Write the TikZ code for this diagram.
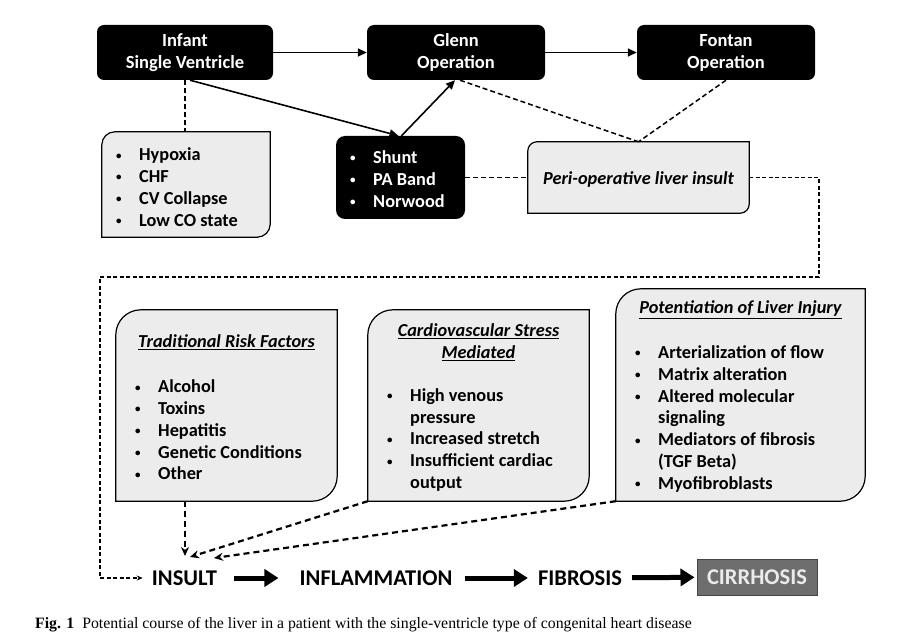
\documentclass[tikz,border=0pt]{standalone}
\usepackage{fontspec}
\setmainfont{Carlito}
\newfontfamily\capfont{Liberation Serif}
\usetikzlibrary{arrows.meta,calc}
\definecolor{boxgray}{HTML}{ECECEC}
\definecolor{cirrgray}{HTML}{6E6E6E}
\definecolor{cirrborder}{HTML}{454545}
\newcommand\blt[1]{\makebox[23pt][l]{\raisebox{1.6pt}{\scalebox{0.6}{\textbullet}}}#1}
\newcommand\bcnt[1]{\hspace*{23pt}#1}
\newcommand\cutbox[2]{%
  \draw[boxline] ($(#1.north west)+(0,#2)$) .. controls ($(#1.north west)+(0,0.45*#2)$) and ($(#1.north west)+(0.45*#2,0)$) .. ($(#1.north west)+(#2,0)$) -- (#1.north east) -- ($(#1.south east)+(0,-#2)$) .. controls ($(#1.south east)+(0,-0.45*#2)$) and ($(#1.south east)+(-0.45*#2,0)$) .. ($(#1.south east)+(-#2,0)$) -- (#1.south west) -- cycle;}
\begin{document}
\begin{tikzpicture}[x=1pt,y=-1pt,
  blackbox/.style={fill=black, text=white, rounded corners=7pt, inner sep=0,
    font=\bfseries\fontsize{18.5}{22}\selectfont, align=center},
  shapebox/.style={inner sep=0, draw=none},
  boxline/.style={draw=black, line width=1.2pt, fill=boxgray},
  bodytext/.style={font=\bfseries\fontsize{18.3}{21.8}\selectfont, align=left, inner sep=0},
  titletext/.style={font=\bfseries\itshape\fontsize{18.3}{21.8}\selectfont, align=center, inner sep=0},
  arr/.style={line width=1.6pt, -{Triangle[length=9pt,width=8pt]}},
  dashline/.style={line width=1.5pt, dash pattern=on 5pt off 3pt},
  dashthin/.style={line width=1.2pt, dash pattern=on 4pt off 2.5pt},
  dashbold/.style={line width=2.2pt, dash pattern=on 6pt off 4pt, -{Stealth[length=9pt,width=8pt]}},
  bigarr/.style={line width=5pt, -{Triangle[length=14pt,width=17pt]}},
  stagetext/.style={font=\bfseries\fontsize{22.5}{27}\selectfont, inner sep=0}
]
\useasboundingbox[fill=white] (0,0) rectangle (917,644);

% top black boxes
\node[blackbox, minimum width=176pt, minimum height=55pt] (inf) at (185,52.5) {Infant\\Single Ventricle};
\node[blackbox, minimum width=178pt, minimum height=55pt] (glenn) at (456,52.5) {Glenn\\Operation};
\node[blackbox, minimum width=178pt, minimum height=55pt] (fontan) at (726,52.5) {Fontan\\Operation};
\node[blackbox, minimum width=129pt, minimum height=83pt, rounded corners=9pt] (shunt) at (400.5,177.5) {};

% grey box shapes
\node[shapebox, minimum width=168pt, minimum height=105pt] (hyp) at (186,184.5) {};
\node[shapebox, minimum width=221pt, minimum height=71pt] (peri) at (638.5,177.5) {};
\node[shapebox, minimum width=221pt, minimum height=191pt] (trad) at (226.5,405.5) {};
\node[shapebox, minimum width=221pt, minimum height=191pt] (cardio) at (478.5,405.5) {};
\node[shapebox, minimum width=249pt, minimum height=212pt] (pot) at (740.5,395) {};
\cutbox{hyp}{13}
\cutbox{peri}{9}
\cutbox{trad}{25}
\cutbox{cardio}{25}
\cutbox{pot}{25}

% texts
\node[bodytext, anchor=west] (hyp-t) at (116,187) {\blt{Hypoxia}\\\blt{CHF}\\\blt{CV Collapse}\\\blt{Low CO state}};
\node[bodytext, text=white, anchor=west] (shunt-t) at (350,179) {\blt{Shunt}\\\blt{PA Band}\\\blt{Norwood}};
\node[titletext] (peri-t) at (638.5,180) {Peri-operative liver insult};
\node[titletext] (trad-h) at (226.5,342) {\underline{Traditional Risk Factors}};
\node[bodytext, anchor=west] (trad-t) at (135,430) {\blt{Alcohol}\\\blt{Toxins}\\\blt{Hepatitis}\\\blt{Genetic Conditions}\\\blt{Other}};
\node[titletext] (cardio-h) at (478.5,342) {\underline{Cardiovascular Stress}\\\underline{Mediated}};
\node[bodytext, anchor=west] (cardio-t) at (387,440) {\blt{High venous}\\\bcnt{pressure}\\\blt{Increased stretch}\\\blt{Insufficient cardiac}\\\bcnt{output}};
\node[titletext] (pot-h) at (740.5,310) {\underline{Potentiation of Liver Injury}};
\node[bodytext, anchor=west] (pot-t) at (635,419) {\blt{Arterialization of flow}\\\blt{Matrix alteration}\\\blt{Altered molecular}\\\bcnt{signaling}\\\blt{Mediators of fibrosis}\\\bcnt{(TGF Beta)}\\\blt{Myofibroblasts}};

% bottom stages
\node[stagetext] (insult) at (184.5,578) {INSULT};
\node[stagetext] (infl) at (376,578) {INFLAMMATION};
\node[stagetext] (fib) at (580,578) {FIBROSIS};
\node[fill=cirrgray, draw=cirrborder, line width=1pt, text=white!92!black, font=\bfseries\fontsize{22.5}{27}\selectfont, minimum width=120pt, minimum height=36pt, inner sep=0] (cirr) at (757,577) {CIRRHOSIS};

% caption
\node[anchor=west, inner sep=0, font=\capfont\fontsize{15.8}{19}\selectfont] (cap) at (35,625) {\textbf{Fig. 1}\hspace{8pt}Potential course of the liver in a patient with the single-ventricle type of congenital heart disease};

% solid connectors
\draw[arr] (inf) -- (glenn);
\draw[arr] (glenn) -- (fontan);
\draw[arr] ([xshift=5pt]inf.south) -- ([xshift=-2pt]shunt.north);
\draw[arr] ([xshift=1pt]shunt.north) -- ([xshift=-1pt]glenn.south);

% dashed connectors
\draw[dashline] (inf.south) -- (inf.south |- hyp.north);
\draw[dashline] ([xshift=4pt]glenn.south) -- (peri.north);
\draw[dashline] (fontan.south) -- (peri.north);
\draw[dashline] (shunt) -- (peri);
\coordinate (loopR) at (819,277);
\coordinate (loopL) at (100,277);
\draw[dashthin, -{Stealth[length=6pt,width=5pt]}, shorten >=9pt] (peri.east) -| (loopR) -- (loopL) |- (insult.west);

\coordinate (tipA) at (185,556);
\coordinate (tipB) at (190,557);
\coordinate (tipC) at (214,558);
\draw[dashbold] ([xshift=-41.5pt]trad.south) -- (tipA);
\draw[dashbold] (cardio.south west) -- (tipB);
\draw[dashbold] (pot.south west) -- (tipC);

% stage arrows
\draw[bigarr, shorten <=17pt, shorten >=21pt] (insult) -- (infl);
\draw[bigarr, shorten <=12pt, shorten >=10pt] (infl) -- (fib);
\draw[bigarr, shorten <=10pt, shorten >=2pt] (fib) -- (cirr);
\end{tikzpicture}
\end{document}
